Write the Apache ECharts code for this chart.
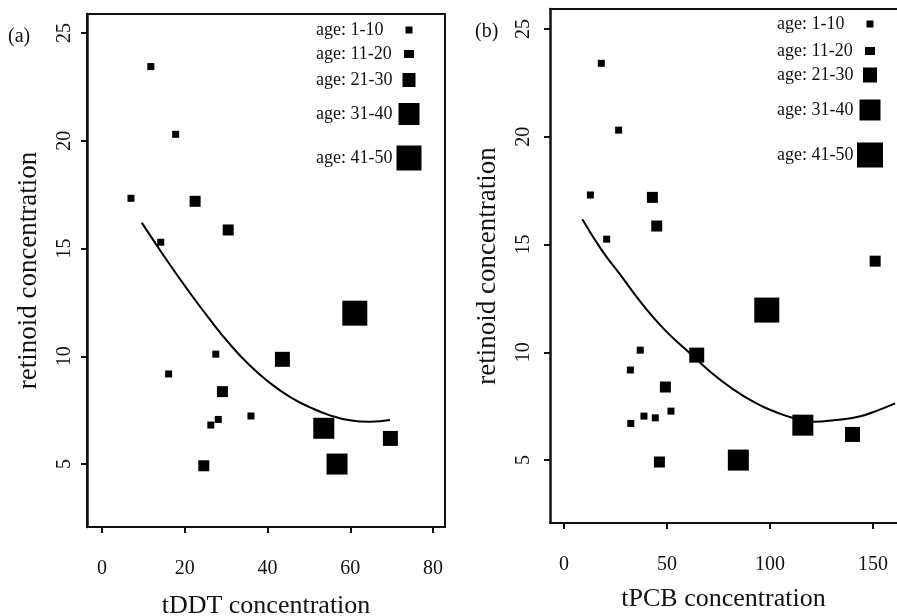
<!DOCTYPE html>
<html>
<head>
<meta charset="utf-8">
<script src="https://cdn.jsdelivr.net/npm/echarts@6/dist/echarts.min.js"></script>
<style>html,body{margin:0;padding:0;background:#fff;}#c{width:897px;height:616px;}</style>
</head>
<body>
<div id="c"></div>
<script>
// ---- data ----
const ageGroups = ['age: 1-10', 'age: 11-20', 'age: 21-30', 'age: 31-40', 'age: 41-50'];

// panel (a): tDDT vs retinoid
const ddtX   = [11.8, 17.8, 7.0, 22.5, 30.5, 14.2, 61.1, 43.6, 27.5, 16.1, 29.1, 36.0, 28.1, 26.3, 53.6, 69.7, 56.8, 24.6];
const ddtY   = [23.44, 20.30, 17.33, 17.19, 15.86, 15.29, 12.0, 9.86, 10.1, 9.18, 8.36, 7.23, 7.07, 6.81, 6.66, 6.19, 5.0, 4.92];
const ddtAge = [0, 0, 0, 1, 1, 0, 4, 2, 0, 0, 1, 0, 0, 0, 3, 2, 3, 1];

// panel (b): tPCB vs retinoid
const pcbX   = [18.1, 26.5, 12.8, 42.9, 45.0, 20.7, 151.0, 98.4, 64.4, 37.0, 32.2, 49.2, 51.9, 38.8, 44.3, 32.4, 115.9, 140.0, 84.6, 46.3];
const pcbY   = [23.41, 20.31, 17.30, 17.19, 15.86, 15.25, 14.23, 11.96, 9.87, 10.1, 9.18, 8.39, 7.27, 7.04, 6.96, 6.70, 6.62, 6.19, 5.0, 4.91];
const pcbAge = [0, 0, 0, 1, 1, 0, 1, 4, 2, 0, 0, 1, 0, 0, 0, 0, 3, 2, 3, 1];

// fitted curves
const ddtCurveX = [9.6, 14.8, 20.5, 26.1, 30.9, 35.8, 40.6, 45.4, 50.3, 55.1, 59.9, 64.7, 69.6];
const ddtCurveY = [16.20, 14.70, 13.14, 11.70, 10.56, 9.56, 8.76, 8.12, 7.63, 7.26, 7.03, 6.96, 7.04];
const pcbCurveX = [8.9, 18.3, 28.0, 37.7, 49.0, 60.3, 70.0, 81.4, 92.7, 102.4, 112.1, 121.8, 131.6, 142.9, 152.6, 160.7];
const pcbCurveY = [16.17, 14.74, 13.51, 12.27, 11.03, 10.03, 9.18, 8.33, 7.66, 7.24, 6.93, 6.78, 6.86, 7.01, 7.32, 7.63];

// tick labels
const ddtTicks = [0, 20, 40, 60, 80];
const pcbTicks = [0, 50, 100, 150];
const retTicks = [5, 10, 15, 20, 25];

// ---- styling ----
const FONT = "'Liberation Serif', 'DejaVu Serif', serif";
const INK = '#111';
const groupSize = [7, 11, 15, 21, 25];

function axisX(gridIndex, min, max, ticks, name, nameGap) {
  return {
    type: 'value', gridIndex, min, max, name, nameLocation: 'middle', nameGap,
    nameTextStyle: { fontFamily: FONT, fontSize: 26, color: INK },
    axisLine: { show: true, onZero: false, lineStyle: { color: INK, width: 2 } },
    axisTick: { show: true, customValues: ticks, length: 6, lineStyle: { color: INK, width: 2 } },
    axisLabel: { show: true, customValues: ticks, margin: 32, fontFamily: FONT, fontSize: 20, color: INK },
    splitLine: { show: false }
  };
}
function axisY(gridIndex, min, max, ticks, name, nameGap, margin) {
  return {
    type: 'value', gridIndex, min, max, name, nameLocation: 'middle', nameGap,
    nameTextStyle: { fontFamily: FONT, fontSize: 27, color: INK },
    axisLine: { show: true, onZero: false, lineStyle: { color: INK, width: 2.5 } },
    axisTick: { show: true, customValues: ticks, length: 6, lineStyle: { color: INK, width: 2 } },
    axisLabel: { show: true, customValues: ticks, rotate: 90, margin, fontFamily: FONT, fontSize: 20, color: INK },
    splitLine: { show: false }
  };
}
// plain frame line (top edge of panel b)
function frameX(gridIndex, min, max) {
  return {
    type: 'value', gridIndex, min, max, position: 'top',
    axisLine: { show: true, onZero: false, lineStyle: { color: INK, width: 2 } },
    axisTick: { show: false }, axisLabel: { show: false }, splitLine: { show: false }
  };
}

function scatterSeries(xs, ys, ages, axisIdx) {
  return ageGroups.map((g, gi) => ({
    type: 'scatter', name: g, xAxisIndex: axisIdx, yAxisIndex: axisIdx,
    symbol: 'rect', symbolSize: groupSize[gi],
    itemStyle: { color: '#000', opacity: 1 },
    z: 3, silent: true,
    data: xs.map((x, i) => [x, ys[i], ages[i]]).filter(d => d[2] === gi).map(d => [d[0], d[1]])
  }));
}
function curveSeries(xs, ys, axisIdx) {
  return {
    type: 'line', name: 'fit', xAxisIndex: axisIdx, yAxisIndex: axisIdx,
    data: xs.map((x, i) => [x, ys[i]]), showSymbol: false, symbol: 'none', smooth: 0.5,
    lineStyle: { color: '#000', width: 2 }, z: 2, silent: true
  };
}

function legends(textLeft, iconX, rows, sizes) {
  return ageGroups.map((g, gi) => {
    const w = sizes[gi][0], h = sizes[gi][1];
    const W = iconX - w / 2 - 5 - textLeft;
    return {
      data: [g], left: textLeft, top: rows[gi] - Math.max(h, 18) / 2, padding: 0,
      align: 'right', icon: 'rect', itemWidth: w, itemHeight: h, symbolKeepAspect: false,
      selectedMode: false, itemStyle: { color: '#000' },
      formatter: '{t|{name}}',
      textStyle: { color: INK, fontFamily: FONT, fontSize: 18,
        rich: { t: { width: W, align: 'left', fontFamily: FONT, fontSize: 18, color: INK } } }
    };
  });
}

const option = {
  backgroundColor: '#fff',
  animation: false,
  title: [
    { text: '(a)', left: 8, top: 27, padding: 0, textStyle: { fontFamily: FONT, fontSize: 20, fontWeight: 'normal', color: INK } },
    { text: '(b)', left: 475, top: 22, padding: 0, textStyle: { fontFamily: FONT, fontSize: 20, fontWeight: 'normal', color: INK } }
  ],
  grid: [
    { left: 87, top: 14, width: 358, height: 513, outerBoundsMode: 'none', containLabel: false,
      show: true, borderColor: INK, borderWidth: 2, backgroundColor: 'transparent' },
    { left: 550, top: 9, width: 347, height: 514, outerBoundsMode: 'none', containLabel: false, show: false }
  ],
  xAxis: [
    axisX(0, -3.63, 82.9, ddtTicks, 'tDDT concentration', 66),
    axisX(1, -6.8, 161.6, pcbTicks, 'tPCB concentration', 63),
    frameX(1, -6.8, 161.6)
  ],
  yAxis: [
    axisY(0, 2.08, 25.88, retTicks, 'retinoid concentration', 45, 12),
    axisY(1, 2.08, 25.93, retTicks, 'retinoid concentration', 49, 16)
  ],
  legend: [].concat(
    legends(316, 409, [30, 54, 80, 114, 158], [[7, 7], [10, 8], [13, 14], [21, 22], [25, 25]]),
    legends(777, 870, [24, 51, 75, 110, 155], [[7, 7], [10, 8], [14, 15], [21, 21], [26, 25]])
  ),
  series: [].concat(
    scatterSeries(ddtX, ddtY, ddtAge, 0),
    [curveSeries(ddtCurveX, ddtCurveY, 0)],
    scatterSeries(pcbX, pcbY, pcbAge, 1),
    [curveSeries(pcbCurveX, pcbCurveY, 1)]
  )
};

const chart = echarts.init(document.getElementById('c'), null, { renderer: 'canvas' });
chart.setOption(option);
</script>
</body>
</html>
